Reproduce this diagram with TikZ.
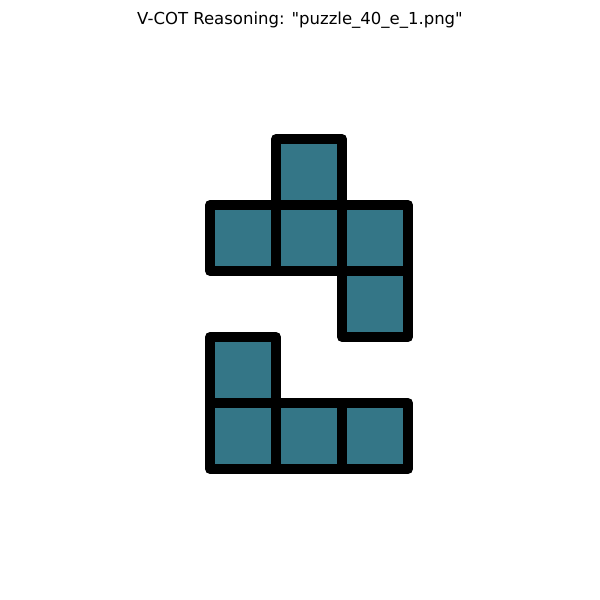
\documentclass[tikz,border=0pt]{standalone}
\usepackage{fontspec}
\newfontfamily\titlefont{DejaVu Sans}
\definecolor{tealfill}{RGB}{52,118,135}
\begin{document}
\begin{tikzpicture}[x=1pt,y=-1pt,
  cell/.style={fill=tealfill,draw=black,line width=10pt,line join=round}]
\useasboundingbox (0,0) rectangle (600,600);
\node[font=\titlefont\fontsize{16.5}{20}\selectfont,inner sep=0pt] (title) at (300,20) {V-COT Reasoning: "puzzle\_40\_e\_1.png"};
\foreach \x/\y/\n in {276/139/a,210/205/b,276/205/c,342/205/d,342/271/e,210/337/f,210/403/g,276/403/h,342/403/i}
  \path[cell] (\x,\y) rectangle ++(66,66);
\end{tikzpicture}
\end{document}
